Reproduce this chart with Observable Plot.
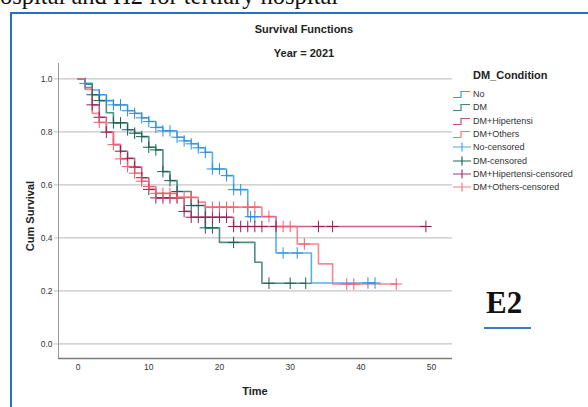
<!DOCTYPE html>
<html>
<head>
<meta charset="utf-8">
<script src="https://cdn.jsdelivr.net/npm/d3@7"></script>
<script src="https://cdn.jsdelivr.net/npm/@observablehq/plot@0.6"></script>
<style>
  body { margin: 0; background: #fff; }
  #fig { position: relative; width: 588px; height: 407px; overflow: hidden; background: #fff;
         font-family: "Liberation Sans", Arial, sans-serif; color: #222; }
  #fig > * { position: absolute; }
  .caption { left: 0; top: -16px; font: 24.5px "Liberation Serif", "Times New Roman", serif; color: #111; white-space: nowrap; line-height: 24px; }
  .frame-left { left: 10px; top: 12px; width: 2px; height: 400px; background: #1f74c9; }
  .frame-top { left: 10px; top: 12px; width: 580px; height: 2px; background: #1f74c9; }
  .title { width: 588px; left: 10px; text-align: center; font-weight: bold; font-size: 11px; line-height: 13px; color: #222; }
  .ylab { left: 30px; top: 216px; transform: translate(-50%, -50%) rotate(-90deg); font-weight: bold; font-size: 11px; white-space: nowrap; color: #222; }
  .xlab { left: 255px; top: 391px; transform: translate(-50%, -50%); font-weight: bold; font-size: 11px; color: #222; }
  .legend-title { left: 473px; top: 69px; font-weight: bold; font-size: 11px; line-height: 13px; color: #222; }
  .legend-item { left: 452px; height: 12px; display: flex; align-items: center; font-size: 9px; color: #333; white-space: nowrap; }
  .legend-item svg { margin-right: 1px; }
  .tag { left: 486px; top: 286px; font: bold 31px "Liberation Serif", "Times New Roman", serif; color: #111; line-height: 34px; }
  .tag-rule { left: 484px; top: 327px; width: 47px; height: 1.5px; background: #3a7cc2; }
</style>
</head>
<body>
<div id="fig"></div>
<script>
// Kaplan–Meier survival steps by DM condition (time, cumulative survival after the step)
const groups = ["No", "DM", "DM+Hipertensi", "DM+Others"];

const noTimes = [0, 1, 2, 3, 4, 5, 7, 8, 9, 10, 11, 12, 14, 15, 16, 17, 18, 19, 21, 22, 24, 28, 33, 42];
const noSurv  = [1, 0.983, 0.958, 0.94, 0.918, 0.902, 0.88, 0.87, 0.853, 0.839, 0.817, 0.804, 0.78, 0.766, 0.755, 0.74, 0.723, 0.66, 0.635, 0.582, 0.48, 0.343, 0.23, 0.23];
const noCensored = [1, 3, 4, 5, 6, 7, 8, 9, 10, 11, 12, 13, 14, 15, 16, 17, 18, 19, 20, 21, 22, 23, 24.4, 25, 29, 31, 41, 42];

const dmTimes = [0, 1, 2, 3, 4, 5, 7, 8, 9, 10, 11, 12, 13, 14, 16, 18, 20, 25, 26, 32.2];
const dmSurv  = [1, 0.98, 0.94, 0.918, 0.872, 0.834, 0.808, 0.795, 0.782, 0.742, 0.732, 0.65, 0.616, 0.575, 0.522, 0.438, 0.383, 0.308, 0.229, 0.229];
const dmCensored = [2, 3, 5, 6, 7, 8, 9, 10, 11, 12, 13, 14, 16, 17, 18, 19, 22, 27, 30, 32.2];

const htTimes = [0, 1, 2, 3, 4, 5, 6, 7, 8, 9, 10, 11, 15, 16, 22, 49.2];
const htSurv  = [1, 0.967, 0.902, 0.855, 0.799, 0.752, 0.727, 0.7, 0.667, 0.627, 0.583, 0.551, 0.5, 0.478, 0.443, 0.443];
const htCensored = [2, 3, 4, 6, 7, 8, 9, 10, 11, 12, 13, 14, 15, 16, 17, 18, 19, 20, 21, 22, 23, 24, 25, 26, 28, 34, 36, 49.2];

const otTimes = [0, 1, 2, 3, 4, 5, 6, 7, 8, 9, 10, 11, 14, 17, 18, 26, 28, 31, 34, 36, 45];
const otSurv  = [1, 0.96, 0.87, 0.836, 0.799, 0.752, 0.698, 0.669, 0.644, 0.614, 0.594, 0.568, 0.553, 0.535, 0.516, 0.481, 0.443, 0.377, 0.302, 0.226, 0.226];
const otCensored = [3, 5, 6, 7, 8, 9, 10, 11, 12, 13, 14, 15, 16, 19, 20, 21, 22, 24, 25, 27, 29, 30, 32, 38, 39, 45];

const yTicks = [0, 0.2, 0.4, 0.6, 0.8, 1.0];
const xTicks = [0, 10, 20, 30, 40, 50];

const lineColors   = ["#3d9fea", "#2e7c6f", "#b84a7d", "#f4737f"];
const censorColors = ["#2b8fe2", "#1d5e53", "#8f1f53", "#f25d6b"];

const series = [
  { group: groups[0], times: noTimes, surv: noSurv, censored: noCensored },
  { group: groups[1], times: dmTimes, surv: dmSurv, censored: dmCensored },
  { group: groups[2], times: htTimes, surv: htSurv, censored: htCensored },
  { group: groups[3], times: otTimes, surv: otSurv, censored: otCensored }
];

// survival level of a series at time t (step function, right-continuous)
function survivalAt(s, t) {
  let v = s.surv[0];
  for (let i = 0; i < s.times.length; i++) if (s.times[i] <= t) v = s.surv[i];
  return v;
}

const xDomain = [-2.77, 52.96];
const yDomain = [-0.055, 1.058];

const stepMarks = series.map((s, i) =>
  Plot.line(s.times.map((t, j) => ({ t, s: s.surv[j] })), {
    x: "t", y: "s", curve: "step-after",
    stroke: lineColors[i], strokeWidth: 1.6, strokeOpacity: 0.85
  })
);
const censorMarks = series.map((s, i) =>
  Plot.dot(s.censored.map(t => ({ t, s: survivalAt(s, t) })), {
    x: "t", y: "s", symbol: "plus", r: 3.8,
    stroke: censorColors[i], strokeWidth: 1
  })
);

const chart = Plot.plot({
  width: 588, height: 407,
  marginLeft: 58, marginRight: 136, marginTop: 63, marginBottom: 49,
  x: { domain: xDomain },
  y: { domain: yDomain },
  style: { fontFamily: "'Liberation Sans', Arial, sans-serif", fontSize: "8.5px", color: "#333", background: "transparent", overflow: "visible" },
  marks: [
    Plot.ruleY(yTicks, { x1: xDomain[0], x2: xDomain[1], stroke: "#c6c6c6", strokeWidth: 1.3 }),
    Plot.axisY({ ticks: yTicks, tickFormat: d3.format(".1f"), tickSize: 4, tickPadding: 2, label: null, stroke: "#bdbdbd" }),
    Plot.axisX({ ticks: xTicks, tickSize: 0, tickPadding: 5, label: null }),
    Plot.ruleX([xDomain[0]], { stroke: "#9a9a9a", strokeWidth: 1 }),
    Plot.ruleY([yDomain[0]], { stroke: "#7a7a7a", strokeWidth: 1.5 }),
    ...stepMarks,
    ...censorMarks
  ]
});

const fig = document.getElementById("fig");
chart.style.left = "0px";
chart.style.top = "0px";
fig.appendChild(chart);

function addDiv(cls, text, style) {
  const d = document.createElement("div");
  d.className = cls;
  if (text != null) d.textContent = text;
  if (style) Object.assign(d.style, style);
  fig.appendChild(d);
  return d;
}

addDiv("caption", "ospital and H2 for tertiary hospital");
addDiv("frame-left");
addDiv("frame-top");
addDiv("title", "Survival Functions", { top: "23px", left: "10px", width: "588px" });
addDiv("title", "Year = 2021", { top: "47px", left: "10px", width: "588px" });
addDiv("ylab", "Cum Survival");
addDiv("xlab", "Time");

// legend
addDiv("legend-title", "DM_Condition");
const legendLabels = [
  ...groups,
  ...groups.map(g => g + "-censored")
];
const legendIconColors = ["#3b9be6", "#3a8a7e", "#c0527f", "#f2737b", "#4aa3ea", "#1f6457", "#a8386e", "#f47f88"];
legendLabels.forEach((label, i) => {
  const item = addDiv("legend-item", null, { top: (88 + i * 13.3) + "px" });
  const ns = "http://www.w3.org/2000/svg";
  const svg = document.createElementNS(ns, "svg");
  svg.setAttribute("width", 20);
  svg.setAttribute("height", 12);
  const p = document.createElementNS(ns, "path");
  p.setAttribute("fill", "none");
  p.setAttribute("stroke", legendIconColors[i]);
  p.setAttribute("stroke-width", 1.2);
  p.setAttribute("d", i < 4 ? "M1,9.5H9V3.5H18" : "M1,6H19M10,1.5V10.5");
  svg.appendChild(p);
  item.appendChild(svg);
  item.appendChild(document.createTextNode(label));
});

addDiv("tag", "E2");
addDiv("tag-rule");
</script>
</body>
</html>
